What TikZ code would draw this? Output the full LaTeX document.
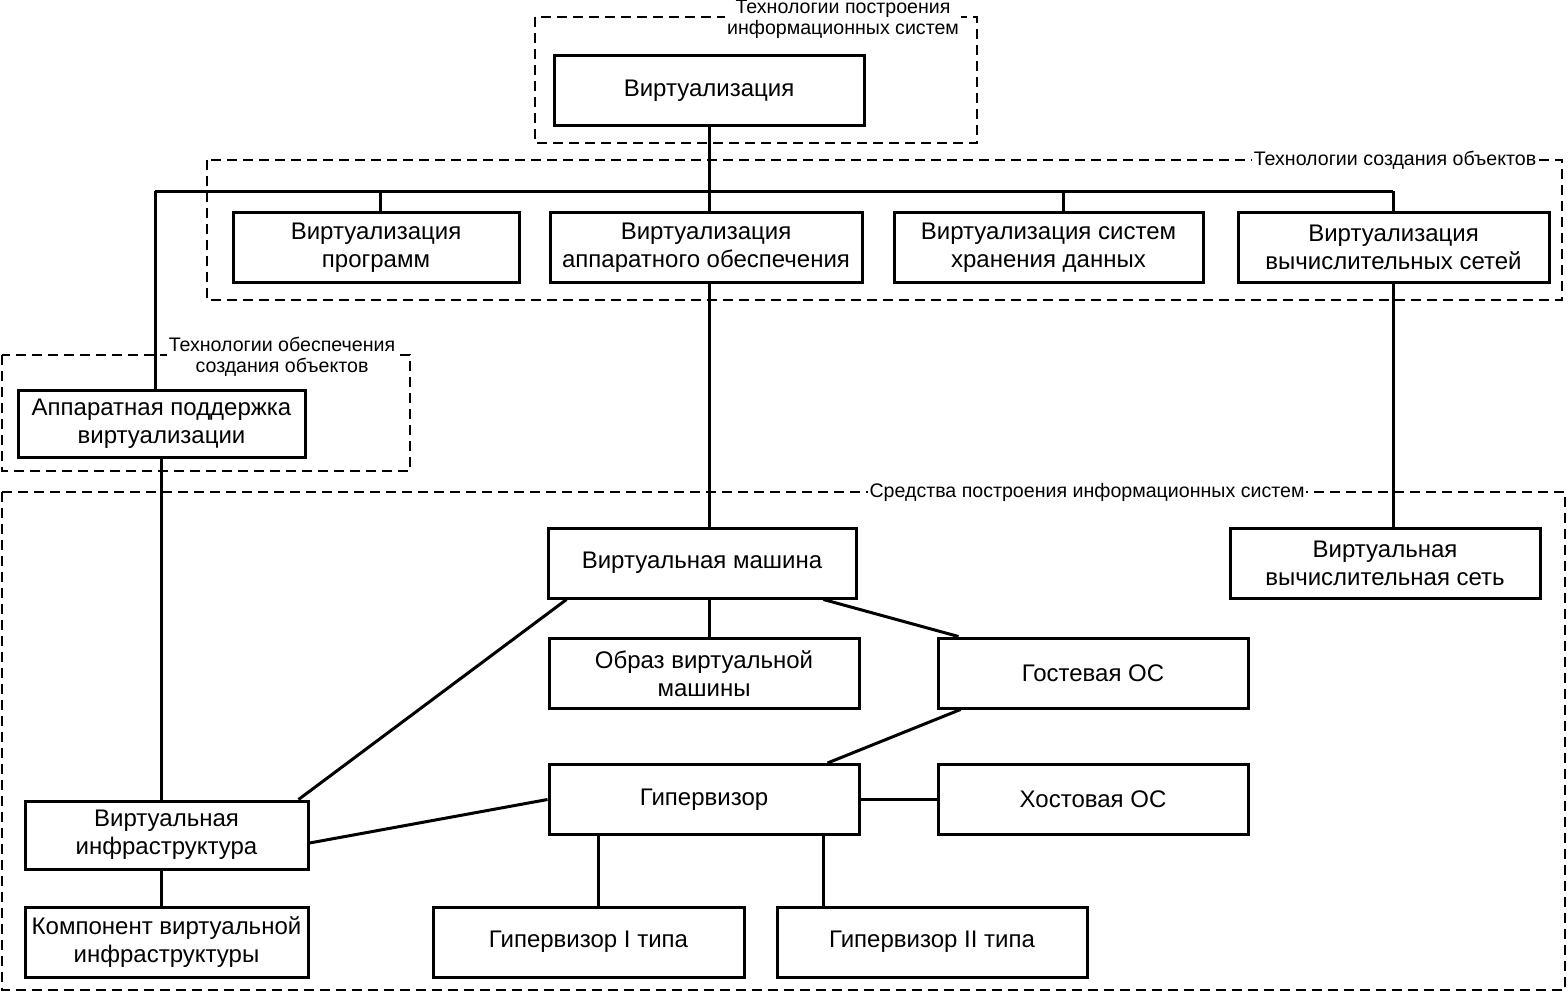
\documentclass[tikz,border=0pt]{standalone}
\usepackage{fontspec}
\setmainfont{Liberation Sans}
\usetikzlibrary{positioning}

\tikzset{
  box/.style = {draw, line width=1.5pt, fill=white, align=center, inner sep=2pt,
                minimum height=35pt, font=\fontsize{12}{14}\selectfont},
  frame/.style = {line width=1.2pt, dash pattern=on 5pt off 3pt},
  framelabel/.style = {fill=white, inner sep=1pt, align=center,
                       font=\fontsize{9.8}{10.5}\selectfont},
  link/.style = {line width=1.5pt}
}

\begin{document}
\begin{tikzpicture}[x=0.5pt, y=-0.5pt]
  \useasboundingbox (0,0) rectangle (1568,992);

  % dashed frames
  \draw[frame] (535,17) rectangle (977,143);
  \draw[frame] (207,160) rectangle (1562,300);
  \draw[frame] (2,355) rectangle (410,471);
  \draw[frame] (2,492) rectangle (1565,990);
  \node[framelabel] (lblsys) at (843,19) {Технологии построения\\информационных систем};
  \node[framelabel] (lblobj) at (1395,160) {Технологии создания объектов};
  \node[framelabel] (lblsup) at (282,357) {Технологии обеспечения\\создания объектов};
  \node[framelabel] (lbltools) at (1087,492) {Средства построения информационных систем};

  % boxes
  \node[box, minimum width=155pt] (virt) at (709,90.5) {Виртуализация};
  \node[box, minimum width=143pt] (prog) at (376,247.5) {Виртуализация\\программ};
  \node[box, minimum width=156pt] (hw) at (706,247.5) {Виртуализация\\аппаратного обеспечения};
  \node[box, minimum width=154.5pt] (stor) at (1048.5,247.5) {Виртуализация систем\\хранения данных};
  \node[box, minimum width=155.5pt] (net) at (1393.5,247.5) {Виртуализация\\вычислительных сетей};
  \node[box, minimum width=143.5pt, minimum height=33.5pt] (hwsup) at (161.5,423.5) {Аппаратная поддержка\\виртуализации};
  \node[box, minimum width=154pt] (vm) at (702,563) {Виртуальная машина};
  \node[box, minimum width=155pt] (vnet) at (1385,563) {Виртуальная\\вычислительная сеть};
  \node[box, minimum width=155pt] (img) at (704,673.5) {Образ виртуальной\\машины};
  \node[box, minimum width=155pt] (guest) at (1093,673) {Гостевая ОС};
  \node[box, minimum width=155pt] (hyp) at (704,799.5) {Гипервизор};
  \node[box, minimum width=155pt] (host) at (1093,799.5) {Хостовая ОС};
  \node[box, minimum width=141.5pt, minimum height=34pt] (vi) at (166.5,835) {Виртуальная\\инфраструктура};
  \node[box, minimum width=141.5pt] (comp) at (166.5,942) {Компонент виртуальной\\инфраструктуры};
  \node[box, minimum width=155.5pt] (hypI) at (588.5,942) {Гипервизор I типа};
  \node[box, minimum width=155pt] (hypII) at (932,942) {Гипервизор II типа};

  % bus
  \coordinate (busL) at (155,191);
  \coordinate (busR) at (1393,191);

  \draw[link] (busL) -- (busR);
  \draw[link] (virt.south) -- (virt.south |- busL);
  \draw[link] (prog.north -| 380,0) -- (busL -| 380,0);
  \draw[link] (hw.north -| virt) -- (busL -| virt);
  \draw[link] (stor.north -| 1063,0) -- (busL -| 1063,0);
  \draw[link] (net.north -| busR) -- (busR);
  \draw[link] (busL) -- (busL |- hwsup.north);

  \draw[link] (hw.south -| virt) -- (vm.north -| virt);
  \draw[link] (net.south -| busR) -- (vnet.north -| busR);
  \draw[link] (hwsup.south -| busL) ++(6,0) coordinate (hwdrop) -- (hwdrop |- vi.north);
  \draw[link] (vi.south -| hwdrop) -- (comp.north -| hwdrop);
  \draw[link] (vm.south -| virt) -- (img.north -| virt);
  \draw[link] ([xshift=-17pt]vm.south east) -- ([xshift=11pt]guest.north west);
  \draw[link] ([xshift=12pt]guest.south west) -- ([xshift=-16.5pt]hyp.north east);
  \draw[link] ([xshift=10pt]vm.south west) -- ([xshift=-5.5pt]vi.north east);
  \draw[link] (hyp.west) -- ([yshift=-4pt]vi.east);
  \draw[link] (hyp) -- (host);
  \draw[link] ([xshift=25.5pt]hyp.south west) coordinate (h1) -- (h1 |- hypI.north);
  \draw[link] ([xshift=-18.5pt]hyp.south east) coordinate (h2) -- (h2 |- hypII.north);
\end{tikzpicture}
\end{document}
